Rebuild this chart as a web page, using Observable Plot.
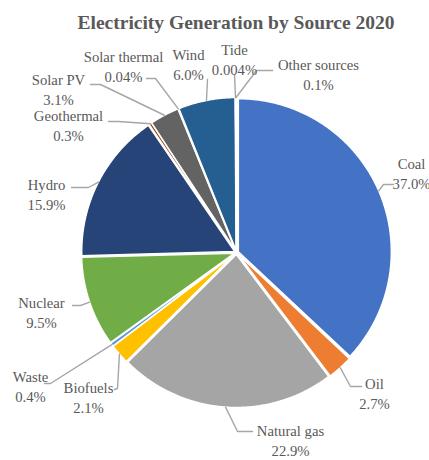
<!DOCTYPE html>
<html><head><meta charset="utf-8">
<script src="https://cdn.jsdelivr.net/npm/d3@7"></script>
<script src="https://cdn.jsdelivr.net/npm/@observablehq/plot@0.6"></script>
<style>
body{margin:0;background:#fff;width:429px;height:460px;overflow:hidden;font-family:"Liberation Serif",serif;}
#title{position:relative;height:36px;}
#title span{position:absolute;left:236px;top:23px;transform:translate(-50%,-50%);white-space:nowrap;font-weight:bold;font-size:19.5px;color:#595959;font-family:"Liberation Serif",serif;}
#chart svg{display:block;}
</style></head><body>
<div id="title"><span>Electricity Generation by Source 2020</span></div>
<div id="chart"></div>
<script>
// ---- data ----
const names = ["Coal","Oil","Natural gas","Biofuels","Waste","Nuclear","Hydro","Geothermal","Solar PV","Solar thermal","Wind","Tide","Other sources"];
const values = [37.0, 2.7, 22.9, 2.1, 0.4, 9.5, 15.9, 0.3, 3.1, 0.04, 6.0, 0.004, 0.1];
const pctLabels = ["37.0%","2.7%","22.9%","2.1%","0.4%","9.5%","15.9%","0.3%","3.1%","0.04%","6.0%","0.004%","0.1%"];
const colors = ["#4472C4","#ED7D31","#A5A5A5","#FFC000","#5B9BD5","#70AD47","#264478","#9E480E","#636363","#997300","#255E91","#43682B","#698ED0"];

// ---- layout (page pixels): label centre, leader elbow, leader end ----
const labelCenter = [[411,172],[374,392],[290,439],[88,396],[30,385],[41,311],[46,193],[68,124],[58,88],[123,65],[188,63],[234,58],[318,73]];
const leaderElbow = [[383,184],[350,386],[237,431],[117,388],[50,383],[80,305],[88,187],[118,121],[100,84],[155,78],[207,79],[234,74],[256,70]];
const leaderEnd   = [[393,184],[361,386],[252,431],[114,389],[44,383],[72,305],[71,187],[108,121],[90,84],[146,78],[207,79],[234,74],[272,70]];

const W = 429, H = 424, TOP = 36;
const PCX = 236, PCY = 252;            // pie centre in page coords
const CY = PCY - TOP;
const R = 153, E = 2;
const SERIF = "Liberation Serif";

const arcs = d3.pie().sort(null).value(d => d)(values);
const slices = arcs.map((a, i) => {
  const mid = (a.startAngle + a.endAngle) / 2;
  const ox = Math.sin(mid) * E, oy = -Math.cos(mid) * E;
  const pts = [{x: ox, y: oy}];
  const n = Math.max(2, Math.ceil((a.endAngle - a.startAngle) / 0.008));
  for (let k = 0; k <= n; k++) {
    const t = a.startAngle + (a.endAngle - a.startAngle) * k / n;
    pts.push({x: ox + Math.sin(t) * R, y: oy - Math.cos(t) * R});
  }
  pts.push({x: ox, y: oy});
  return {name: names[i], color: colors[i], mid, pts};
});

const leaders = [];
slices.forEach((s, i) => {
  leaders.push({name: s.name, x: Math.sin(s.mid) * (R + E), y: -Math.cos(s.mid) * (R + E)});
  leaders.push({name: s.name, x: leaderElbow[i][0] - PCX, y: leaderElbow[i][1] - PCY});
  leaders.push({name: s.name, x: leaderEnd[i][0] - PCX, y: leaderEnd[i][1] - PCY});
});

const labels = names.map((n, i) => ({
  text: n + "\n" + pctLabels[i],
  x: labelCenter[i][0] - PCX,
  y: labelCenter[i][1] - PCY
}));

const chart = Plot.plot({
  width: W, height: H,
  margin: 0,
  x: {type: "linear", domain: [-PCX, W - PCX], range: [0, W], axis: null},
  y: {type: "linear", domain: [-CY, H - CY], range: [0, H], axis: null},
  style: {background: "white", fontFamily: SERIF},
  marks: [
    ...slices.map(s => Plot.line(s.pts, {x: "x", y: "y", fill: s.color, stroke: "white", strokeWidth: 1.5, strokeLinejoin: "round", curve: "linear"})),
    Plot.line(leaders, {x: "x", y: "y", z: "name", stroke: "#A6A6A6", strokeWidth: 1.4, curve: "linear"}),
    Plot.text(labels, {x: "x", y: "y", text: "text", fill: "#595959", fontSize: 14.7, lineHeight: 1.33, textAnchor: "middle", fontFamily: SERIF})
  ]
});
document.getElementById("chart").appendChild(chart);
</script></body></html>
